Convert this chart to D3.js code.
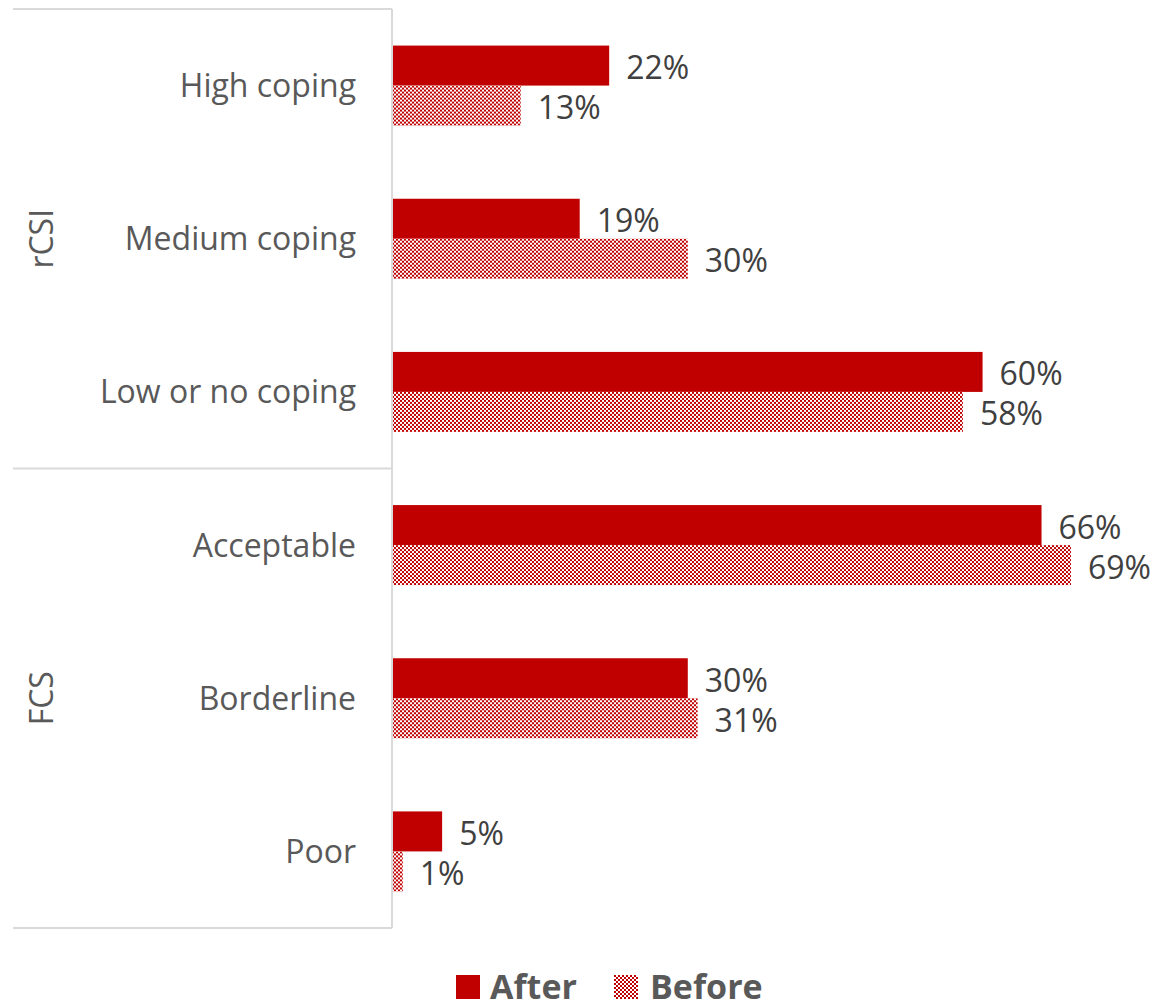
<!DOCTYPE html>
<html>
<head>
<meta charset="utf-8">
<script src="https://cdn.jsdelivr.net/npm/d3@7"></script>
<style>
  html, body { margin: 0; padding: 0; background: #fff; }
  svg { display: block; }
</style>
</head>
<body>
<script>
// Food security indicators: share of households after vs before
const categories = ["High coping", "Medium coping", "Low or no coping", "Acceptable", "Borderline", "Poor"];
const groups = [
  { name: "rCSI", members: ["High coping", "Medium coping", "Low or no coping"] },
  { name: "FCS", members: ["Acceptable", "Borderline", "Poor"] }
];
const afterValues = [22, 19, 60, 66, 30, 5];
const beforeValues = [13, 30, 58, 69, 31, 1];
const seriesNames = ["After", "Before"];

const W = 1157, H = 1007;
const red = "#c00000";
const font = "'Open Sans', sans-serif";

const svg = d3.select("body").append("svg").attr("width", W).attr("height", H);

// checkerboard fill for the "Before" series
const defs = svg.append("defs");
const pat = defs.append("pattern")
  .attr("id", "check").attr("patternUnits", "userSpaceOnUse")
  .attr("width", 4).attr("height", 4);
pat.append("rect").attr("width", 4).attr("height", 4).attr("fill", "#fff");
pat.append("rect").attr("x", 0).attr("y", 0).attr("width", 2).attr("height", 2).attr("fill", red);
pat.append("rect").attr("x", 2).attr("y", 2).attr("width", 2).attr("height", 2).attr("fill", red);

const plot = { left: 393, top: 9, bottom: 928 };

const x = d3.scaleLinear().domain([0, 69]).range([plot.left, 1071]);
const y = d3.scaleBand().domain(categories).range([plot.top, plot.bottom]).paddingInner(0).paddingOuter(0);
const barH = 40;
const sub = d3.scaleBand().domain(seriesNames).range([0, barH * 2]);

const data = categories.map((c, i) => ({ cat: c, After: afterValues[i], Before: beforeValues[i] }));

// bars
const rows = svg.append("g").selectAll("g").data(data).join("g")
  .attr("transform", d => `translate(0,${y(d.cat) + y.bandwidth() / 2 - barH})`);

seriesNames.forEach(s => {
  rows.append("rect")
    .attr("x", x(0))
    .attr("y", sub(s))
    .attr("width", d => x(d[s]) - x(0))
    .attr("height", sub.bandwidth())
    .attr("fill", s === "After" ? red : "url(#check)");
  rows.append("text")
    .attr("x", d => x(d[s]) + 17)
    .attr("y", sub(s) + sub.bandwidth() / 2 + 1)
    .attr("dominant-baseline", "central")
    .attr("font-family", font).attr("font-size", 32)
    .attr("fill", "#404040")
    .text(d => d[s] + "%");
});

// axis and group dividers
const lineColor = "#d9d9d9";
const axisG = svg.append("g");
axisG.append("line").attr("x1", 392).attr("x2", 392).attr("y1", plot.top).attr("y2", plot.bottom)
  .attr("stroke", lineColor).attr("stroke-width", 2);

const boundaries = [plot.top];
groups.forEach(g => boundaries.push(y(g.members[g.members.length - 1]) + y.bandwidth()));
boundaries.forEach(b => {
  axisG.append("line").attr("x1", 13).attr("x2", 392).attr("y1", b).attr("y2", b)
    .attr("stroke", lineColor).attr("stroke-width", 2);
});

// category labels
svg.append("g").selectAll("text").data(categories).join("text")
  .attr("x", 356)
  .attr("y", d => y(d) + y.bandwidth() / 2 - 1)
  .attr("text-anchor", "end")
  .attr("dominant-baseline", "central")
  .attr("font-family", font).attr("font-size", 32)
  .attr("fill", "#595959")
  .text(d => d);

// group labels
groups.forEach(g => {
  const top = y(g.members[0]);
  const bot = y(g.members[g.members.length - 1]) + y.bandwidth();
  const cy = (top + bot) / 2;
  svg.append("text")
    .attr("transform", `translate(40,${cy}) rotate(-90)`)
    .attr("text-anchor", "middle")
    .attr("dominant-baseline", "central")
    .attr("font-family", font).attr("font-size", 32)
    .attr("fill", "#595959")
    .text(g.name);
});

// legend
const legend = svg.append("g").attr("transform", "translate(456,985)");
legend.append("rect").attr("x", 0).attr("y", -10).attr("width", 24).attr("height", 24).attr("fill", red);
legend.append("text").attr("x", 34).attr("y", 1).attr("dominant-baseline", "central")
  .attr("font-family", font).attr("font-size", 34).attr("font-weight", "bold").attr("fill", "#595959")
  .text(seriesNames[0]);
legend.append("rect").attr("x", 158).attr("y", -10).attr("width", 24).attr("height", 24).attr("fill", "url(#check)");
legend.append("text").attr("x", 194).attr("y", 1).attr("dominant-baseline", "central")
  .attr("font-family", font).attr("font-size", 34).attr("font-weight", "bold").attr("fill", "#595959")
  .text(seriesNames[1]);
</script>
</body>
</html>
